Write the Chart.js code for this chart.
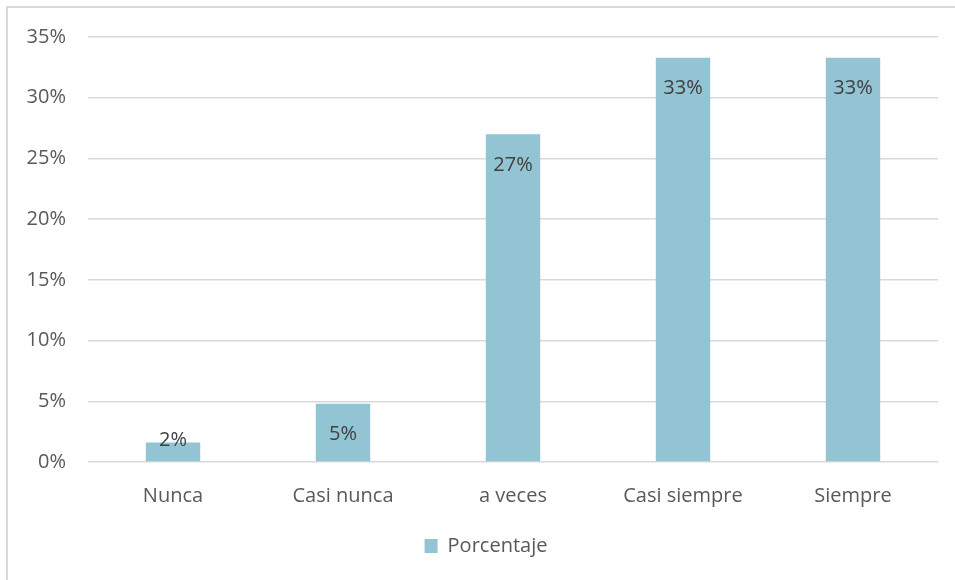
<!DOCTYPE html>
<html>
<head>
<meta charset="utf-8">
<script src="https://cdn.jsdelivr.net/npm/chart.js@4"></script>
<style>
  html, body { margin: 0; padding: 0; background: #fff; overflow: hidden; }
  #wrap { position: relative; width: 955px; height: 580px; overflow: hidden; }
  #frame { position: absolute; left: 6px; top: 6px; width: 1000px; height: 1000px; border: 2px solid #d9d9d9; box-sizing: border-box; }
  #chartCanvas { position: absolute; left: 0; top: 0; }
</style>
</head>
<body>
<div id="wrap">
  <div id="frame"></div>
  <canvas id="chartCanvas" width="955" height="580"></canvas>
</div>
<script>
const categories = ["Nunca", "Casi nunca", "a veces", "Casi siempre", "Siempre"];
const porcentaje = [1.6, 4.8, 27.0, 33.3, 33.3];
const seriesName = "Porcentaje";
const yTicks = [0, 5, 10, 15, 20, 25, 30, 35];

const barColor = "#92c4d3";
const textColor = "#595959";
const fontFamily = "'Open Sans', sans-serif";

// labels drawn inside the end of each bar, like the spreadsheet did
const barLabels = {
    id: "barLabels",
    afterDatasetsDraw(chart) {
        const ctx = chart.ctx;
        const meta = chart.getDatasetMeta(0);
        ctx.save();
        ctx.font = "20px " + fontFamily;
        ctx.fillStyle = "#404040";
        ctx.textAlign = "center";
        ctx.textBaseline = "middle";
        meta.data.forEach((bar, i) => {
            const y = Math.min(bar.y + 31, bar.base - 21);
            ctx.fillText(Math.round(porcentaje[i]) + "%", bar.x, y);
        });
        ctx.restore();
    }
};

const ctx = document.getElementById("chartCanvas").getContext("2d");

new Chart(ctx, {
    type: "bar",
    data: {
        labels: categories,
        datasets: [{
            label: seriesName,
            data: porcentaje,
            backgroundColor: barColor,
            borderWidth: 0,
            categoryPercentage: 1,
            barPercentage: 0.32
        }]
    },
    options: {
        responsive: false,
        animation: false,
        layout: {
            padding: { left: 17, right: 0, top: 37, bottom: 14 }
        },
        plugins: {
            legend: {
                display: true,
                position: "bottom",
                labels: {
                    boxWidth: 13,
                    boxHeight: 14,
                    color: textColor,
                    font: { family: fontFamily, size: 20 },
                    padding: 10
                }
            },
            tooltip: { enabled: false }
        },
        scales: {
            x: {
                grid: { display: false },
                border: { display: false },
                ticks: {
                    color: textColor,
                    font: { family: fontFamily, size: 20 },
                    padding: 14,
                    maxRotation: 0
                },
                afterFit(scale) { scale.height = 64; }
            },
            y: {
                min: 0,
                max: 35,
                afterBuildTicks(scale) { scale.ticks = yTicks.map(v => ({ value: v })); },
                grid: { color: "#d9d9d9", lineWidth: 1.5, drawTicks: false },
                border: { display: false },
                ticks: {
                    color: textColor,
                    font: { family: fontFamily, size: 20 },
                    padding: 22,
                    callback: v => v + "%"
                },
                afterFit(scale) { scale.width = 71; }
            },
            // empty right margin so the legend sits where the original had it
            yRight: {
                position: "right",
                min: 0,
                max: 35,
                grid: { display: false },
                border: { display: false },
                ticks: { display: false },
                afterFit(scale) { scale.width = 17; }
            }
        }
    },
    plugins: [barLabels]
});
</script>
</body>
</html>
